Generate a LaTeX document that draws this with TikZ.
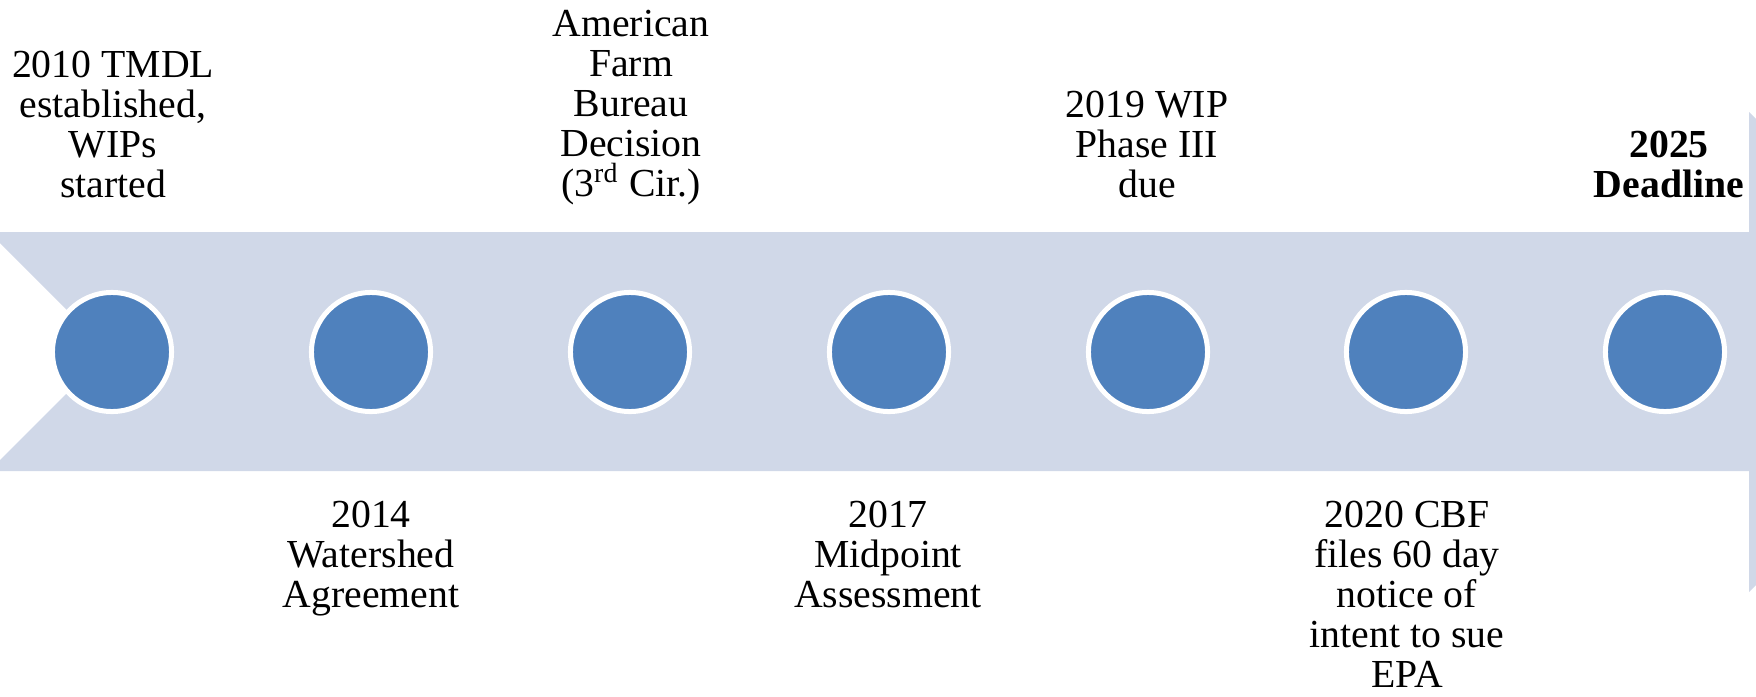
\documentclass[tikz,border=0pt]{standalone}
\usepackage{fontspec}
\setmainfont{Liberation Serif}
\usetikzlibrary{positioning}

\definecolor{bandgray}{HTML}{D0D8E8}
\definecolor{dotblue}{HTML}{4F81BD}

\tikzset{
    dot/.style={circle, inner sep=0pt, minimum size=1.19cm, fill=dotblue, draw=white, line width=0.05cm},
    event/.style={align=center, inner sep=0pt, font=\fontsize{11.3}{11.4}\selectfont}
}

\begin{document}
\begin{tikzpicture}[x=0.01cm,y=-0.01cm]
    \useasboundingbox (0,0) rectangle (1756,697);
    \clip (0,0) rectangle (1756,697);
    % timeline band with notched tail and arrow head
    \fill[bandgray] (-11,232) -- (1749,232) -- (1749,112) -- (1989,352) -- (1749,592)
        -- (1749,471) -- (-11,471) -- (108.5,351.5) -- cycle;
    % milestones
    \foreach \i/\x in {1/112,2/371,3/630,4/889,5/1148,6/1406,7/1665} {
        \node[dot] (m\i) at (\x,352) {};
    }
    % events above the band
    \node[event, anchor=south] (t2010) at (113,199) {2010 TMDL\\established,\\WIPs\\started};
    \node[event, anchor=south] (tafb) at (631,206) {American\\Farm\\Bureau\\Decision\\(3\textsuperscript{rd} Cir.)};
    \node[event, anchor=south] (t2019) at (1147,199) {2019 WIP\\Phase III\\due};
    \node[event, anchor=south] (t2025) at (1669,199) {\textbf{2025}\\\textbf{Deadline}};
    % events below the band
    \node[event, anchor=north] (t2014) at (371,500) {2014\\Watershed\\Agreement};
    \node[event, anchor=north] (t2017) at (888,500) {2017\\Midpoint\\Assessment};
    \node[event, anchor=north] (t2020) at (1407,500) {2020 CBF\\files 60 day\\notice of\\intent to sue\\EPA};
\end{tikzpicture}
\end{document}
